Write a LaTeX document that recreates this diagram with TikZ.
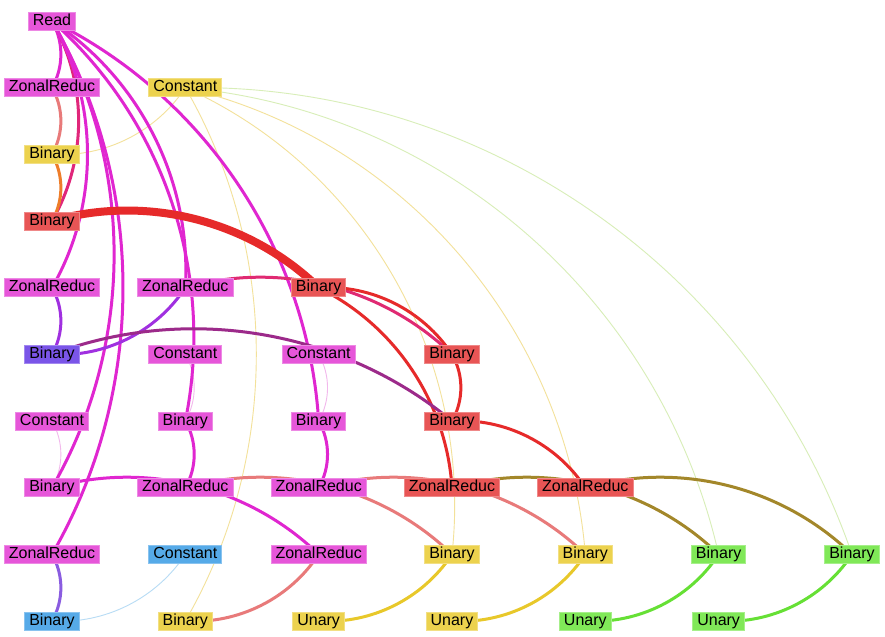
\documentclass[tikz,border=0pt]{standalone}
\usepackage{fontspec}
\setmainfont{Liberation Sans}
\usetikzlibrary{backgrounds}

% node fills
\definecolor{nodeMag}{HTML}{E656D9}
\definecolor{nodeRed}{HTML}{E85555}
\definecolor{nodeYel}{HTML}{ECD24E}
\definecolor{nodeGrn}{HTML}{80E858}
\definecolor{nodeBlu}{HTML}{56AAE8}
\definecolor{nodePur}{HTML}{7A55E8}
% link colours
\definecolor{lnkMag}{HTML}{E026D0}
\definecolor{lnkCrim}{HTML}{E0267A}
\definecolor{lnkSalmon}{HTML}{E87A7A}
\definecolor{lnkOrange}{HTML}{EE7D2A}
\definecolor{lnkRed}{HTML}{E62A2A}
\definecolor{lnkPinkRed}{HTML}{E02A72}
\definecolor{lnkPur}{HTML}{A030E0}
\definecolor{lnkDarkPur}{HTML}{9C2A8A}
\definecolor{lnkBluePur}{HTML}{8A5CE0}
\definecolor{lnkYel}{HTML}{E8C82A}
\definecolor{lnkGrn}{HTML}{66E035}
\definecolor{lnkOlive}{HTML}{A3872A}
\definecolor{thinYel}{HTML}{F3E19A}
\definecolor{thinGrn}{HTML}{D8EEB8}
\definecolor{thinPink}{HTML}{F2B8EC}
\definecolor{thinBlu}{HTML}{B8DCF5}

\tikzset{
  op/.style={rectangle, inner xsep=4.5pt, inner ysep=0pt, minimum height=18pt,
             text height=11.5pt, text depth=3.5pt, line width=0.8pt,
             font=\fontsize{16}{18}\selectfont, text=black},
  mag/.style={op, fill=nodeMag, draw=nodeMag!70!white},
  red/.style={op, fill=nodeRed, draw=nodeRed!70!white},
  yel/.style={op, fill=nodeYel, draw=nodeYel!70!white},
  grn/.style={op, fill=nodeGrn, draw=nodeGrn!70!white},
  blu/.style={op, fill=nodeBlu, draw=nodeBlu!70!white},
  pur/.style={op, fill=nodePur, draw=nodePur!70!white},
  link/.style={line width=3pt, bend left=30, looseness=0.91},
  thinlink/.style={line width=0.9pt, bend left=30, looseness=0.91},
  farlink/.style={line width=0.9pt, bend left=36, looseness=0.94}
}

\begin{document}
\begin{tikzpicture}[x=133.33pt, y=-66.67pt]
  \path[use as bounding box] (-0.39,-0.315) rectangle (6.2476,9.2246);

  % column 0 and the first rows
  \node[mag] (read) at (0,0) {Read};
  \node[mag] (zr1)  at (0,1) {ZonalReduc};
  \node[yel] (cst1) at (1,1) {Constant};
  \node[yel] (bin2) at (0,2) {Binary};
  \node[red] (bin3) at (0,3) {Binary};

  \node[mag] (zr4a) at (0,4) {ZonalReduc};
  \node[mag] (zr4b) at (1,4) {ZonalReduc};
  \node[red] (bin4) at (2,4) {Binary};

  \node[pur] (bin5a) at (0,5) {Binary};
  \node[mag] (cst5b) at (1,5) {Constant};
  \node[mag] (cst5c) at (2,5) {Constant};
  \node[red] (bin5d) at (3,5) {Binary};

  \node[mag] (cst6a) at (0,6) {Constant};
  \node[mag] (bin6b) at (1,6) {Binary};
  \node[mag] (bin6c) at (2,6) {Binary};
  \node[red] (bin6d) at (3,6) {Binary};

  \node[mag] (bin7a) at (0,7) {Binary};
  \node[mag] (zr7b)  at (1,7) {ZonalReduc};
  \node[mag] (zr7c)  at (2,7) {ZonalReduc};
  \node[red] (zr7d)  at (3,7) {ZonalReduc};
  \node[red] (zr7e)  at (4,7) {ZonalReduc};

  \node[mag] (zr8a)  at (0,8) {ZonalReduc};
  \node[blu] (cst8b) at (1,8) {Constant};
  \node[mag] (zr8c)  at (2,8) {ZonalReduc};
  \node[yel] (bin8d) at (3,8) {Binary};
  \node[yel] (bin8e) at (4,8) {Binary};
  \node[grn] (bin8f) at (5,8) {Binary};
  \node[grn] (bin8g) at (6,8) {Binary};

  \node[blu] (bin9a) at (0,9) {Binary};
  \node[yel] (bin9b) at (1,9) {Binary};
  \node[yel] (un9c)  at (2,9) {Unary};
  \node[yel] (un9d)  at (3,9) {Unary};
  \node[grn] (un9e)  at (4,9) {Unary};
  \node[grn] (un9f)  at (5,9) {Unary};

  \begin{scope}[on background layer]
    \fill[white] (-0.39,-0.315) rectangle (6.2476,9.2246);
    % thin links out of the constants
    \draw[thinlink, thinYel] (cst1.center) to (bin2.center);
    \draw[thinlink, thinYel] (cst1.center) to (bin9b.center);
    \draw[farlink, thinYel] (cst1.center) to (bin8d.center);
    \draw[farlink, thinYel] (cst1.center) to (bin8e.center);
    \draw[farlink, thinGrn] (cst1.center) to (bin8f.center);
    \draw[farlink, thinGrn] (cst1.center) to (bin8g.center);
    \draw[thinlink, thinPink] (cst5b.center) to (bin6b.center);
    \draw[thinlink, thinPink] (cst5c.center) to (bin6c.center);
    \draw[thinlink, thinPink] (cst6a.center) to (bin7a.center);
    \draw[thinlink, thinBlu] (cst8b.center) to (bin9a.center);

    % links out of Read
    \draw[link, lnkMag] (read.center) to (zr1.center);
    \draw[link, lnkCrim] (read.center) to (bin3.center);
    \draw[link, lnkMag] (read.center) to (zr4a.center);
    \draw[link, lnkMag] (read.center) to (zr4b.center);
    \draw[link, lnkMag] (read.center) to (bin7a.center);
    \draw[link, lnkMag] (read.center) to (zr8a.center);
    \draw[link, lnkMag] (read.center) to (bin6b.center);
    \draw[link, lnkMag] (read.center) to (bin6c.center);

    \draw[link, lnkSalmon] (zr1.center) to (bin2.center);
    \draw[link, lnkOrange] (bin2.center) to (bin3.center);
    \draw[link, lnkRed, line width=8pt] (bin3.center) to (bin4.center);

    \draw[link, lnkPur] (zr4a.center) to (bin5a.center);
    \draw[link, lnkPur] (zr4b.center) to (bin5a.center);
    \draw[link, lnkPinkRed] (zr4b.center) to (bin5d.center);
    \draw[link, lnkRed] (bin4.center) to (bin5d.center);
    \draw[link, lnkRed] (bin4.center) to (zr7d.center);
    \draw[link, lnkRed] (bin5d.center) to (bin6d.center);
    \draw[link, lnkDarkPur] (bin5a.center) to (bin6d.center);
    \draw[link, lnkRed] (bin6d.center) to (zr7e.center);

    \draw[link, lnkMag] (bin6b.center) to (zr7b.center);
    \draw[link, lnkMag] (bin6c.center) to (zr7c.center);
    \draw[link, lnkMag] (bin7a.center) to (zr8c.center);

    \draw[link, lnkSalmon] (zr7b.center) to (bin8d.center);
    \draw[link, lnkSalmon] (zr7c.center) to (bin8e.center);
    \draw[link, lnkOlive] (zr7d.center) to (bin8f.center);
    \draw[link, lnkOlive] (zr7e.center) to (bin8g.center);

    \draw[link, lnkBluePur] (zr8a.center) to (bin9a.center);
    \draw[link, lnkSalmon] (zr8c.center) to (bin9b.center);
    \draw[link, lnkYel] (bin8d.center) to (un9c.center);
    \draw[link, lnkYel] (bin8e.center) to (un9d.center);
    \draw[link, lnkGrn] (bin8f.center) to (un9e.center);
    \draw[link, lnkGrn] (bin8g.center) to (un9f.center);
  \end{scope}
\end{tikzpicture}
\end{document}
